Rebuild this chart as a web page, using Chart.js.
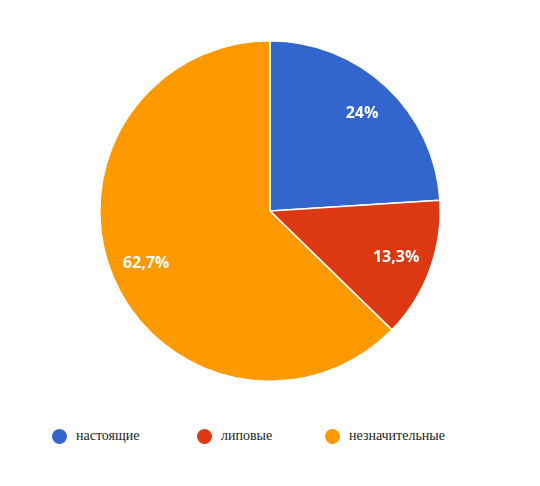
<!DOCTYPE html>
<html><head><meta charset="utf-8">
<script src="https://cdn.jsdelivr.net/npm/chart.js@4"></script>
<style>
body{margin:0;width:540px;height:486px;background:#fff;position:relative;overflow:hidden}
#wrap{position:absolute;left:0;top:0;width:540px;height:422px}
#legend{position:absolute;top:428px;left:0;width:540px;font-family:"Liberation Serif",serif;font-size:14px;color:#222}
.it{position:absolute;display:flex;align-items:center;white-space:nowrap}
.dot{width:15px;height:15px;border-radius:50%;margin-right:9px}
</style></head><body>
<div id="wrap"><canvas id="c"></canvas></div>
<div id="legend"></div>
<script>
const categories=["настоящие","липовые","незначительные"];
const values=[24,13.3,62.7];
const labels=["24%","13,3%","62,7%"];
const colors=["#3366cc","#dc3912","#ff9900"];
const legendX=[52,197,325];
const lg=document.getElementById('legend');
categories.forEach((c,i)=>{const d=document.createElement('div');d.className='it';d.style.left=legendX[i]+'px';
d.innerHTML='<span class="dot" style="background:'+colors[i]+'"></span>'+c;lg.appendChild(d);});
const lab={id:'lab',afterDatasetsDraw(ch){const ctx=ch.ctx;ch.getDatasetMeta(0).data.forEach((a,i)=>{
const m=(a.startAngle+a.endAngle)/2,r=a.outerRadius*0.79;
ctx.save();ctx.fillStyle='#fff';ctx.font='bold 16px "Open Sans", Arial, sans-serif';ctx.textAlign='center';ctx.textBaseline='middle';
ctx.fillText(labels[i],a.x+Math.cos(m)*r,a.y+Math.sin(m)*r);ctx.restore();});}};
new Chart(document.getElementById('c'),{type:'pie',
data:{labels:categories,datasets:[{data:values,backgroundColor:colors,borderColor:'#fff',borderWidth:1.5}]},
options:{responsive:true,maintainAspectRatio:false,animation:false,layout:{padding:{top:40,bottom:40}},
plugins:{legend:{display:false},tooltip:{enabled:false}}},plugins:[lab]});
</script></body></html>
